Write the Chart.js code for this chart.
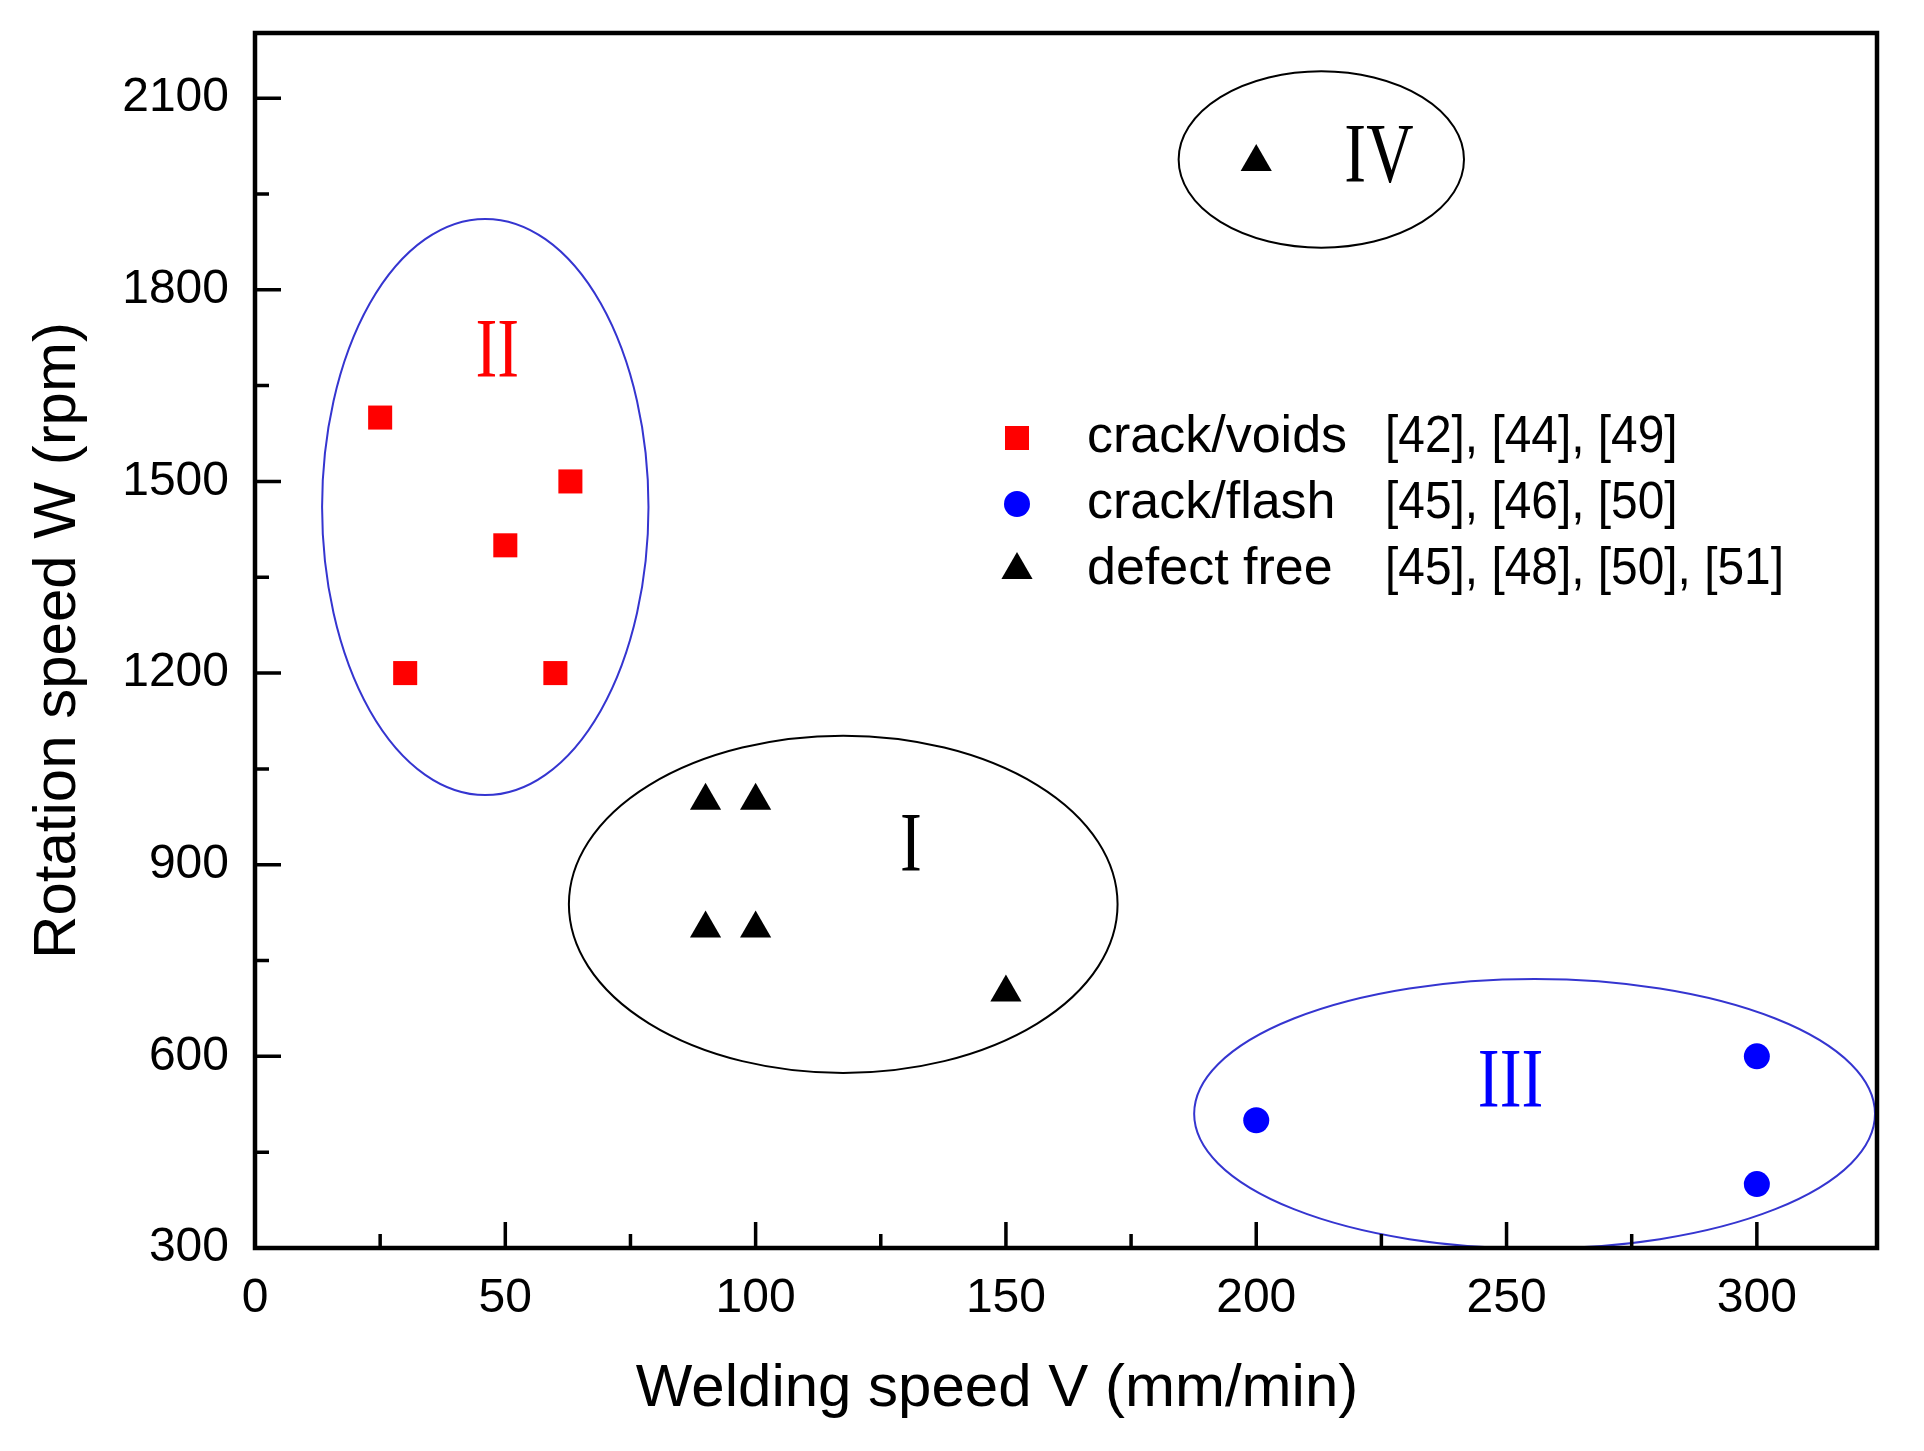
<!DOCTYPE html>
<html>
<head>
<meta charset="utf-8">
<script src="https://cdn.jsdelivr.net/npm/chart.js@4/dist/chart.umd.min.js"></script>
<style>
  html, body { margin: 0; padding: 0; background: #fff; }
</style>
</head>
<body>
<canvas id="defect-map" width="1924" height="1451"></canvas>
<script>
// tick labels
const xTicks = [0, 50, 100, 150, 200, 250, 300];
const yTicks = [300, 600, 900, 1200, 1500, 1800, 2100];

// series (welding speed mm/min, rotation speed rpm)
const voidsX = [25, 63, 50, 30, 60];
const voidsY = [1600, 1500, 1400, 1200, 1200];
const flashX = [200, 300, 300];
const flashY = [500, 600, 400];
const freeX = [90, 100, 90, 100, 150, 200];
const freeY = [1000, 1000, 800, 800, 700, 2000];

const seriesNames = ['crack/voids', 'crack/flash', 'defect free'];
const seriesRefs = ['[42], [44], [49]', '[45], [46], [50]', '[45], [48], [50], [51]'];

// process windows drawn as ellipses, in data units
const zoneLabels = ['I', 'II', 'III', 'IV'];
const zoneX = [117.5, 46, 255.6, 213];
const zoneY = [838, 1460, 510, 2004];
const zoneHalfW = [54.8, 32.6, 68, 28.5];
const zoneHalfH = [264, 451, 211, 138];
const zoneTextX = [131, 48.4, 250.8, 224.5];
const zoneTextY = [924, 1698, 555, 2004];

const zoneLine = ['#000000', '#3535d0', '#3535d0', '#000000'];
const zoneText = ['#000000', '#ff0000', '#0000ff', '#000000'];

const canvas = document.getElementById('defect-map');

function pts(xs, ys) {
    return xs.map((v, i) => ({x: v, y: ys[i]}));
}

const zonesAndFrame = {
    id: 'zonesAndFrame',
    beforeDatasetsDraw(chart) {
        const {ctx, chartArea: a, scales: {x, y}} = chart;
        ctx.save();
        ctx.beginPath();
        ctx.rect(a.left, a.top, a.width, a.height);
        ctx.clip();
        zoneLabels.forEach((lab, i) => {
            const cx = x.getPixelForValue(zoneX[i]);
            const cy = y.getPixelForValue(zoneY[i]);
            const rx = x.getPixelForValue(zoneX[i] + zoneHalfW[i]) - cx;
            const ry = cy - y.getPixelForValue(zoneY[i] + zoneHalfH[i]);
            ctx.beginPath();
            ctx.ellipse(cx, cy, rx, ry, 0, 0, Math.PI * 2);
            ctx.strokeStyle = zoneLine[i];
            ctx.lineWidth = 2;
            ctx.stroke();

            ctx.save();
            ctx.translate(x.getPixelForValue(zoneTextX[i]), y.getPixelForValue(zoneTextY[i]));
            ctx.scale(0.78, 1);
            ctx.font = '84px "Liberation Serif"';
            ctx.fillStyle = zoneText[i];
            ctx.textAlign = 'center';
            ctx.textBaseline = 'middle';
            ctx.fillText(lab, 0, 0);
            ctx.restore();
        });
        ctx.restore();
    },
    afterDatasetsDraw(chart) {
        const {ctx, chartArea: a, scales: {x, y}} = chart;
        ctx.save();
        ctx.strokeStyle = '#000';
        ctx.lineWidth = 4.5;
        ctx.strokeRect(a.left, a.top, a.width, a.height);

        // inward ticks
        ctx.lineWidth = 3.5;
        ctx.beginPath();
        xTicks.forEach(v => {
            const px = x.getPixelForValue(v);
            ctx.moveTo(px, a.bottom);
            ctx.lineTo(px, a.bottom - 26);
            const m = v + 25;
            if (m < x.max) {
                const pm = x.getPixelForValue(m);
                ctx.moveTo(pm, a.bottom);
                ctx.lineTo(pm, a.bottom - 14);
            }
        });
        yTicks.forEach(v => {
            const py = y.getPixelForValue(v);
            ctx.moveTo(a.left, py);
            ctx.lineTo(a.left + 26, py);
            const m = v + 150;
            if (m < y.max) {
                const pm = y.getPixelForValue(m);
                ctx.moveTo(a.left, pm);
                ctx.lineTo(a.left + 14, pm);
            }
        });
        ctx.stroke();

        // legend
        ctx.font = '52px "Liberation Sans"';
        ctx.textBaseline = 'middle';
        ctx.textAlign = 'left';
        chart.data.datasets.forEach((ds, i) => {
            const rowY = 438 + i * 66;
            ctx.fillStyle = ds.backgroundColor;
            Chart.helpers.drawPoint(ctx, {pointStyle: ds.pointStyle, radius: ds.pointRadius, rotation: 0, borderWidth: 0}, 1017, rowY);
            ctx.fillStyle = '#000';
            ctx.fillText(seriesNames[i], 1087, rowY);
            ctx.save();
            ctx.translate(1385, rowY);
            ctx.scale(0.92, 1);
            ctx.fillText(seriesRefs[i], 0, 0);
            ctx.restore();
        });

        // x axis title
        ctx.font = '60px "Liberation Sans"';
        ctx.textAlign = 'center';
        ctx.textBaseline = 'alphabetic';
        ctx.fillText('Welding speed V (mm/min)', 997, 1406);
        ctx.restore();
    }
};

new Chart(canvas, {
    type: 'scatter',
    data: {
        datasets: [{
            label: seriesNames[0],
            data: pts(voidsX, voidsY),
            pointStyle: 'rect',
            pointRadius: 17,
            backgroundColor: '#ff0000',
            borderWidth: 0
        }, {
            label: seriesNames[1],
            data: pts(flashX, flashY),
            pointStyle: 'circle',
            pointRadius: 13,
            backgroundColor: '#0000ff',
            borderWidth: 0
        }, {
            label: seriesNames[2],
            data: pts(freeX, freeY),
            pointStyle: 'triangle',
            pointRadius: 18,
            backgroundColor: '#000000',
            borderWidth: 0
        }]
    },
    options: {
        responsive: false,
        animation: false,
        devicePixelRatio: 1,
        layout: {padding: {top: 33, right: 47, left: 0, bottom: 0}},
        plugins: {
            legend: {display: false},
            tooltip: {enabled: false}
        },
        scales: {
            x: {
                type: 'linear',
                position: 'bottom',
                min: 0,
                max: 324,
                afterBuildTicks: s => { s.ticks = xTicks.map(v => ({value: v})); },
                afterFit: s => { s.height = 203; s.paddingLeft = 0; s.paddingRight = 0; },
                grid: {display: false, drawTicks: false},
                border: {display: false},
                ticks: {
                    font: {family: 'Liberation Sans', size: 48},
                    color: '#000',
                    padding: 22,
                    maxRotation: 0,
                    callback: v => String(v)
                }
            },
            y: {
                type: 'linear',
                min: 300,
                max: 2202,
                afterBuildTicks: s => { s.ticks = yTicks.map(v => ({value: v})); },
                afterFit: s => { s.width = 255; s.paddingTop = 0; s.paddingBottom = 0; },
                grid: {display: false, drawTicks: false},
                border: {display: false},
                ticks: {
                    font: {family: 'Liberation Sans', size: 48},
                    color: '#000',
                    padding: 26,
                    callback: v => String(v)
                },
                title: {
                    display: true,
                    text: 'Rotation speed W (rpm)',
                    font: {family: 'Liberation Sans', size: 60},
                    color: '#000',
                    padding: {top: 22, bottom: 0}
                }
            }
        }
    },
    plugins: [zonesAndFrame]
});
</script>
</body>
</html>
